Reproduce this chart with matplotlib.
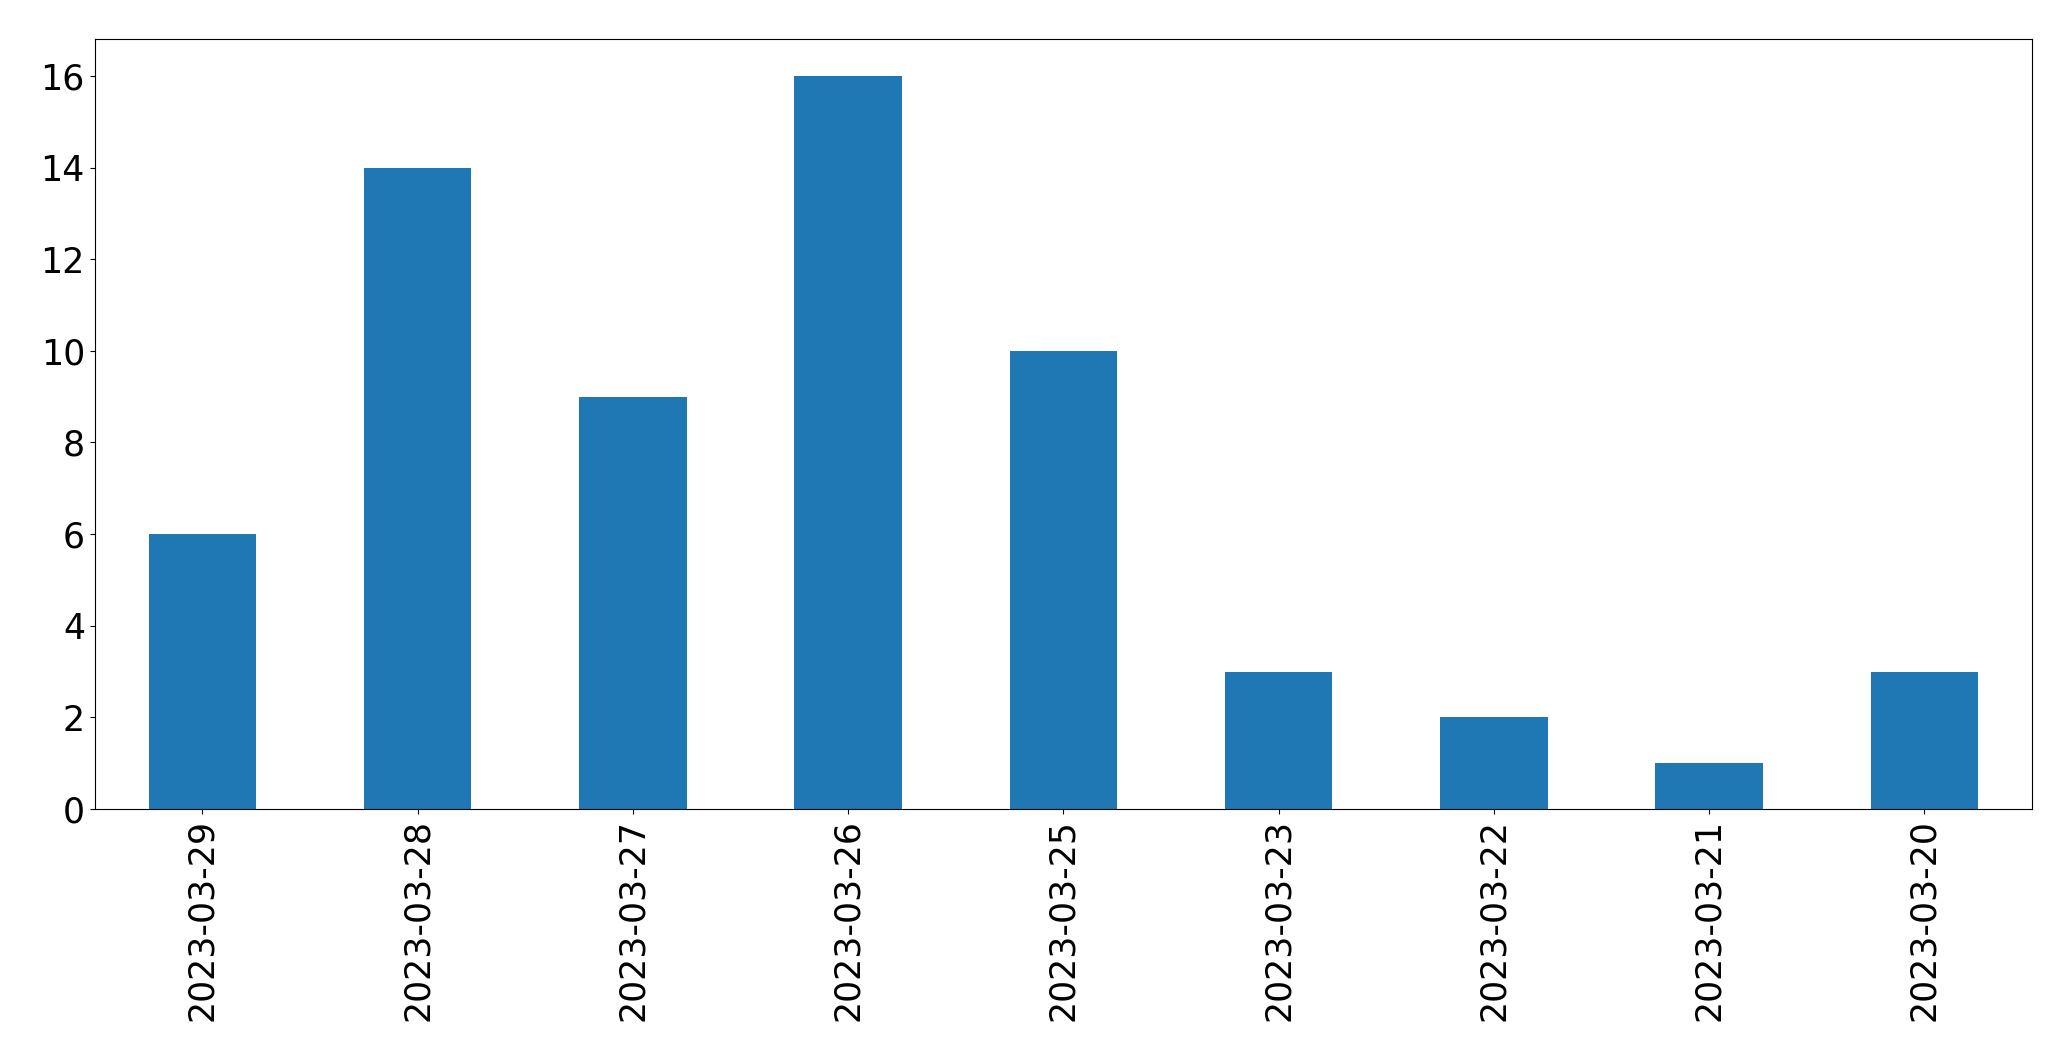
import matplotlib
matplotlib.use("Agg")
import matplotlib.pyplot as plt

dates = ["2023-03-29", "2023-03-28", "2023-03-27", "2023-03-26", "2023-03-25",
         "2023-03-23", "2023-03-22", "2023-03-21", "2023-03-20"]
counts = [6, 14, 9, 16, 10, 3, 2, 1, 3]

fig = plt.figure(figsize=(20.71, 10.61), dpi=100)
ax = fig.add_axes([94.7/2071, 1 - 809/1061, (2032-94.7)/2071, (809-39.3)/1061])
x = list(range(len(dates)))
ax.bar(x, counts, width=0.5, color="#1f77b4")
ax.set_xlim(-0.5, len(dates) - 0.5)
ax.set_ylim(0, 16.8)
ax.set_xticks(x)
ax.set_xticklabels(dates, rotation=90)
ax.set_yticks(range(0, 17, 2))
ax.tick_params(labelsize=25)
fig.savefig("out.png", dpi=100)
